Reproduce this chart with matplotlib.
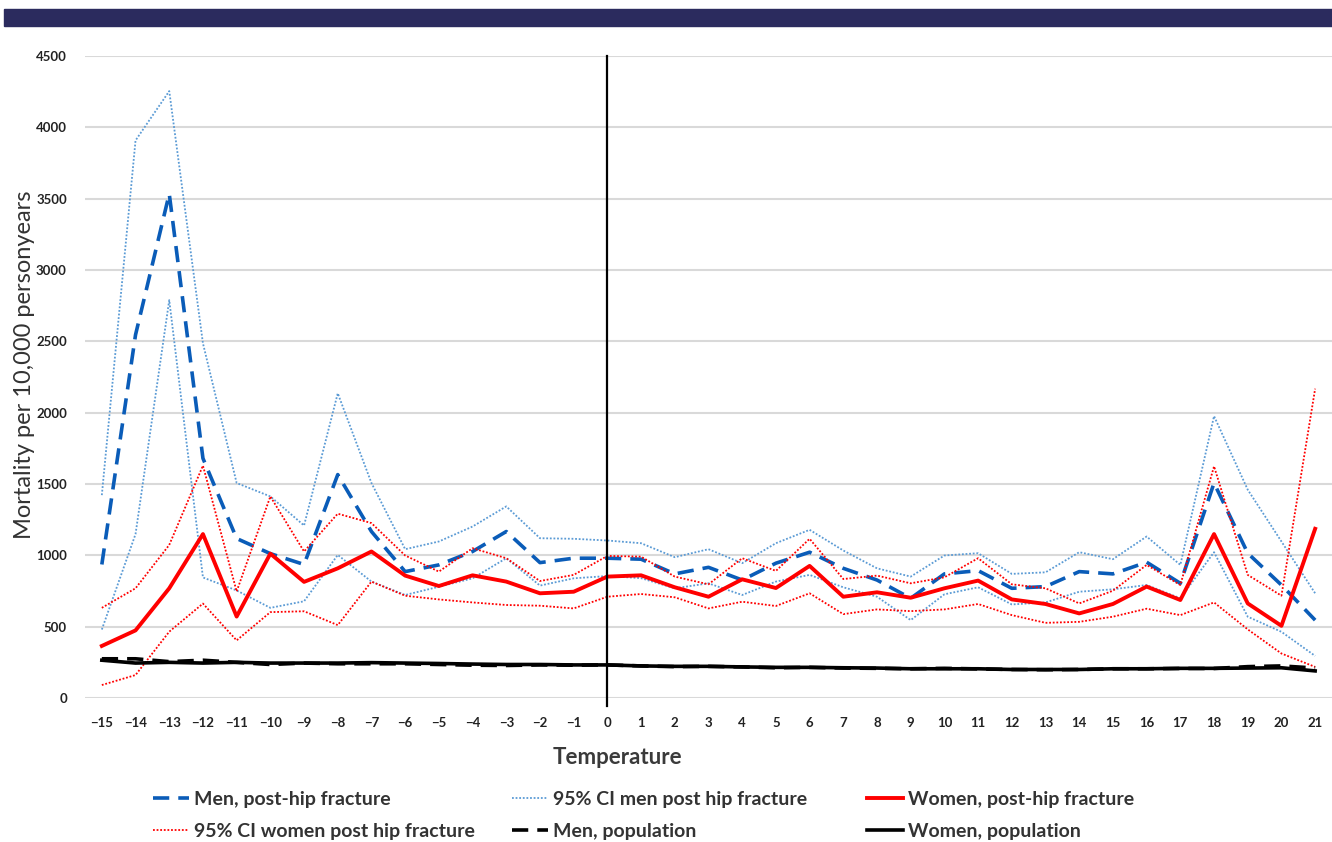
import numpy as np
import matplotlib
matplotlib.use("Agg")
import matplotlib.pyplot as plt
from matplotlib.patches import Rectangle

temps = list(range(-15, 22))

men_hip = [936, 2546, 3534, 1680, 1118, 1012, 936, 1566, 1167, 886, 933, 1027, 1167, 949, 980,
           980, 973, 870, 916, 827, 945, 1022, 909, 827, 699, 870, 893, 769, 781, 886, 870,
           952, 804, 1507, 1015, 792, 546]
men_ci_hi = [1422, 3908, 4254, 2486, 1507, 1413, 1209, 2136, 1507, 1043, 1097, 1202, 1343, 1120, 1116,
             1104, 1085, 987, 1043, 945, 1085, 1179, 1034, 909, 851, 999, 1015, 870, 881, 1022, 973,
             1132, 933, 1976, 1460, 1097, 734]
men_ci_lo = [480, 1149, 2789, 845, 754, 632, 678, 1003, 816, 722, 780, 839, 980, 788, 839,
             855, 840, 769, 804, 722, 816, 863, 776, 710, 546, 727, 776, 656, 670, 745, 762,
             792, 699, 1022, 570, 464, 295]
women_hip = [365, 474, 769, 1149, 571, 1012, 814, 909, 1027, 858, 785, 860, 816, 734, 745,
             851, 860, 776, 710, 832, 771, 926, 710, 741, 703, 769, 823, 691, 659, 593, 659,
             781, 687, 1149, 663, 506, 1186]
women_ci_hi = [632, 769, 1073, 1629, 747, 1413, 1027, 1292, 1226, 999, 886, 1050, 980, 820, 863,
               996, 991, 851, 797, 980, 891, 1116, 834, 858, 804, 846, 980, 797, 769, 663, 752,
               933, 792, 1624, 863, 717, 2168]
women_ci_lo = [91, 161, 465, 662, 404, 602, 608, 511, 816, 717, 691, 670, 652, 647, 628,
               710, 729, 706, 628, 675, 645, 734, 588, 621, 609, 621, 659, 581, 527, 534, 570,
               626, 581, 670, 481, 312, 218]
men_pop = [275, 275, 255, 265, 250, 235, 245, 240, 240, 240, 235, 230, 228, 232, 230,
           232, 225, 220, 222, 218, 212, 215, 210, 208, 205, 208, 204, 200, 198, 200, 205,
           205, 207, 207, 220, 225, 210]
women_pop = [265, 245, 250, 245, 250, 245, 245, 245, 248, 245, 242, 238, 235, 235, 232,
             232, 225, 222, 222, 218, 215, 215, 212, 210, 205, 205, 205, 200, 200, 200, 205,
             205, 208, 208, 210, 212, 190]

plt.rcParams['font.family'] = ['Lato', 'DejaVu Sans']

fig = plt.figure(figsize=(13.32, 8.42), dpi=100)
fig.patches.append(Rectangle((0.003, 0.969), 0.997, 0.020, transform=fig.transFigure,
                             color="#2b2b5e", zorder=0))
ax = fig.add_axes([0.0638, 0.171, 0.9362, 0.7625])

blue = "#0a5cb8"
lblue = "#5b9bd5"
red = "#ff0000"

h_men, = ax.plot(temps, men_hip, color=blue, lw=2.6, dashes=(4.5, 2.5), label="Men, post-hip fracture")
h_mci, = ax.plot(temps, men_ci_hi, color=lblue, lw=1.3, dashes=(1, 1), label="95% CI men post hip fracture")
ax.plot(temps, men_ci_lo, color=lblue, lw=1.3, dashes=(1, 1))
h_wom, = ax.plot(temps, women_hip, color=red, lw=2.8, label="Women, post-hip fracture")
h_wci, = ax.plot(temps, women_ci_hi, color=red, lw=1.3, dashes=(1, 1), label="95% CI women post hip fracture")
ax.plot(temps, women_ci_lo, color=red, lw=1.3, dashes=(1, 1))
h_mp, = ax.plot(temps, men_pop, color="black", lw=2.6, dashes=(4.5, 2.5), label="Men, population")
h_wp, = ax.plot(temps, women_pop, color="black", lw=2.6, label="Women, population")

ax.axvline(0, ymin=-0.012, ymax=1, color="black", lw=1.6, clip_on=False, zorder=5)

ax.set_xlim(-15.5, 21.5)
ax.set_ylim(0, 4500)
ax.set_yticks(np.arange(0, 4501, 500))
ax.set_xticks(temps)
ax.grid(axis="y", color="#d9d9d9", lw=1.5)
ax.set_axisbelow(True)
for s in ax.spines.values():
    s.set_visible(False)
ax.tick_params(length=0, labelsize=9.5, labelcolor="#222222")
ax.tick_params(axis="y", pad=13)
ax.tick_params(axis="x", pad=14)
for lab in ax.get_xticklabels() + ax.get_yticklabels():
    lab.set_fontweight("bold")

fig.text(25 / 1332, 1 - 365 / 842, "Mortality per 10,000 personyears", rotation=90,
         ha="center", va="center", fontsize=17, color="#333333")
fig.text(617 / 1332, 1 - 758 / 842, "Temperature", ha="center", va="center",
         fontsize=16, fontweight="bold", color="#3a3a3a")

# three legend columns, placed where the reference has them
columns = [(153, [h_men, h_wci]), (512, [h_mci, h_mp]), (867, [h_wom, h_wp])]
for x0, hs in columns:
    leg = fig.legend(handles=hs, labels=[h.get_label() for h in hs], loc="upper left",
                     bbox_to_anchor=(x0 / 1332, 1 - 791 / 842), frameon=False,
                     prop={"size": 14, "weight": "bold"}, handlelength=1.85, handletextpad=0.25,
                     labelspacing=0.78, borderpad=0, borderaxespad=0)
    for t in leg.get_texts():
        t.set_color("#333333")

fig.savefig("out.png", dpi=100)
